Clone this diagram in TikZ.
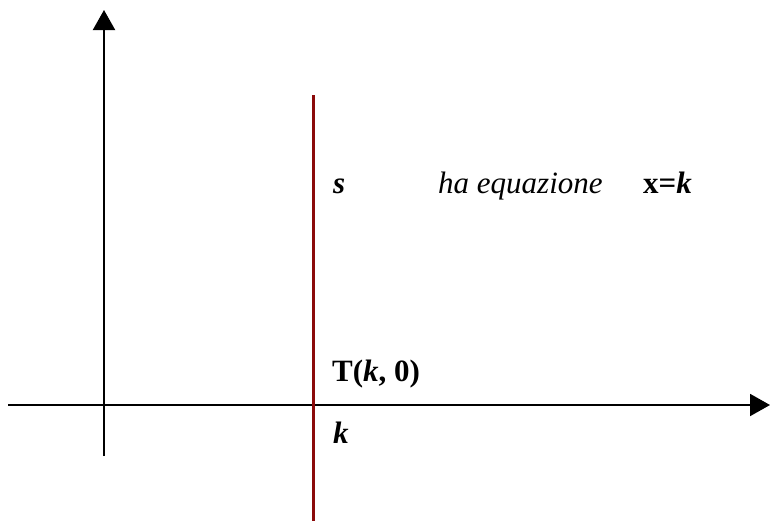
\documentclass[tikz,border=0pt]{standalone}
\usepackage{fontspec}
\setmainfont{Liberation Serif}
\usetikzlibrary{arrows.meta,positioning}
\definecolor{Ink}{HTML}{000000}
\definecolor{Rosso}{HTML}{8B0A0A}
\newcommand{\bi}[1]{\textbf{\textit{#1}}}
\tikzset{
  axisline/.style={-{Triangle[length=20pt,width=22pt]},draw=Ink,line width=2pt},
  retta/.style={draw=Rosso,line width=3pt},
  lbl/.style={anchor=base west,inner sep=0pt,font=\fontsize{31}{36}\selectfont,text=Ink}
}

\begin{document}
\begin{tikzpicture}[x=1pt,y=-1pt]
  \useasboundingbox (0,0) rectangle (770,522);
  \coordinate (yb) at (104,456);
  \coordinate (yt) at (104,10);
  \coordinate (xl) at (8,405);
  \coordinate (xr) at (770,405);
  \coordinate (st) at (313,95);
  \coordinate (sb) at (313,521);
  \draw[axisline] (yb) -- (yt);
  \draw[axisline] (xl) -- (xr);
  \draw[retta] (st) -- (sb);
  \node[lbl] (s) at (333,193) {\bi{s}};
  \node[lbl] (eq) at (438,193) {\itshape ha equazione};
  \node[lbl] (xk) at (643,193) {\textbf{x=}\bi{k}};
  \node[lbl] (T) at (332,381) {\textbf{T(}\bi{k}\textbf{, 0)}};
  \node[lbl] (k) at (333,443) {\bi{k}};
\end{tikzpicture}
\end{document}
